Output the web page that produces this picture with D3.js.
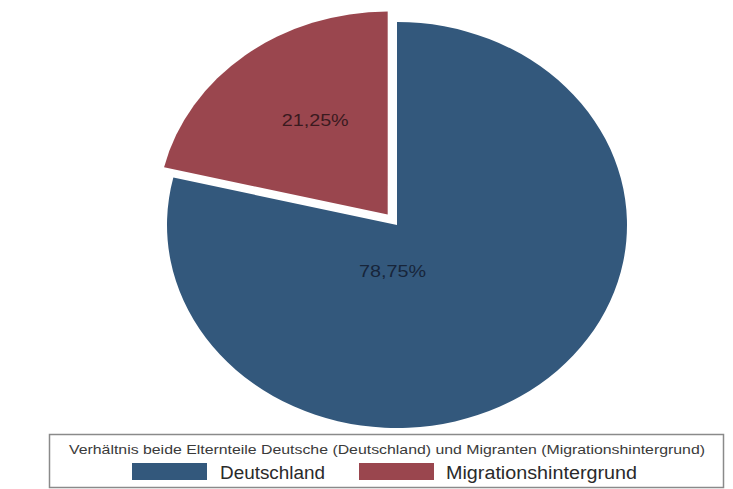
<!DOCTYPE html>
<html>
<head>
<meta charset="utf-8">
<script src="https://cdn.jsdelivr.net/npm/d3@7"></script>
<style>
  body { margin: 0; background: #ffffff; }
  svg { display: block; font-family: "Liberation Sans", Arial, sans-serif; }
</style>
</head>
<body>
<div id="chart"></div>
<script>
// data
const categories = ["Deutschland", "Migrationshintergrund"];
const shares = [78.75, 21.25];
const sliceLabels = ["78,75%", "21,25%"];
const legendTitle = "Verhältnis beide Elternteile Deutsche (Deutschland) und Migranten (Migrationshintergrund)";

const colors = d3.scaleOrdinal().domain(categories).range(["#33587c", "#9a464e"]);
const labelColors = ["#17253a", "#3a1a1f"];

const width = 733, height = 489;
const cx = 397, cy = 225, rx = 230, ry = 203;
const explode = [0, 15];
// label position relative to slice centre, after the y squash
const labelOffset = [[-4.5, 52], [-72.5, -89]];

const svg = d3.select("#chart").append("svg")
  .attr("width", width).attr("height", height);

const pie = d3.pie().sort(null).value(d => d.value);
const arcs = pie(categories.map((c, i) => ({ name: c, value: shares[i], label: sliceLabels[i] })));

const arc = d3.arc().innerRadius(0).outerRadius(rx);

arcs.forEach(function (a, i) {
  let mid = (a.startAngle + a.endAngle) / 2;
  let ox = Math.sin(mid) * explode[i];
  let oy = -Math.cos(mid) * explode[i] * (ry / rx);
  let sx = cx + ox, sy = cy + oy;

  svg.append("g")
    .attr("transform", "translate(" + sx + "," + sy + ") scale(1," + (ry / rx) + ")")
    .append("path")
    .attr("d", arc(a))
    .attr("fill", colors(a.data.name));

  svg.append("text")
    .attr("x", sx + labelOffset[i][0])
    .attr("y", sy + labelOffset[i][1])
    .attr("text-anchor", "middle")
    .attr("font-size", 17)
    .attr("textLength", 67)
    .attr("lengthAdjust", "spacingAndGlyphs")
    .attr("fill", labelColors[i])
    .text(a.data.label);
});

// legend
const legend = svg.append("g");
legend.append("rect")
  .attr("x", 49.5).attr("y", 434.5)
  .attr("width", 674).attr("height", 53)
  .attr("fill", "#ffffff")
  .attr("stroke", "#8a8a8a")
  .attr("stroke-width", 1.5);

legend.append("text")
  .attr("x", 387).attr("y", 454)
  .attr("text-anchor", "middle")
  .attr("font-size", 13)
  .attr("textLength", 636)
  .attr("lengthAdjust", "spacingAndGlyphs")
  .attr("fill", "#3a3a3a")
  .text(legendTitle);

const keyX = [132, 359];
const keyTextX = [220, 446];
const keyTextW = [105, 191];

categories.forEach(function (c, i) {
  legend.append("rect")
    .attr("x", keyX[i]).attr("y", 463)
    .attr("width", 75).attr("height", 17)
    .attr("fill", colors(c));
  legend.append("text")
    .attr("x", keyTextX[i]).attr("y", 479)
    .attr("font-size", 18)
    .attr("textLength", keyTextW[i])
    .attr("lengthAdjust", "spacingAndGlyphs")
    .attr("fill", "#2a2a2a")
    .text(c);
});
</script>
</body>
</html>
